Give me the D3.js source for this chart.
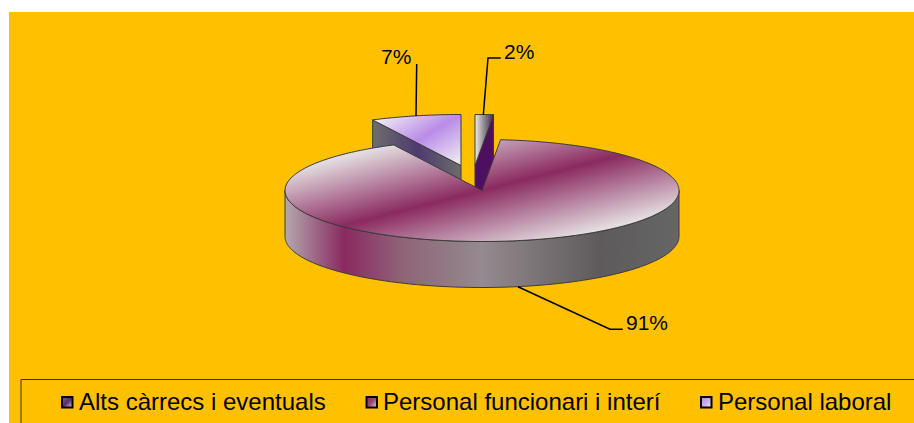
<!DOCTYPE html>
<html><head><meta charset="utf-8">
<script src="https://cdn.jsdelivr.net/npm/d3@7/dist/d3.min.js"></script>
<style>html,body{margin:0;padding:0;background:#fff;overflow:hidden}svg{display:block}text{font-family:"Liberation Sans",Arial,sans-serif;fill:#000}</style>
</head><body><svg id="c" width="914" height="423"></svg>
<script>
const categories = ["Alts càrrecs i eventuals","Personal funcionari i interí","Personal laboral"];
const values = [1.5, 91.1, 7.4];
const valueLabels = ["2%","91%","7%"];

const svg = d3.select("#c");
const defs = svg.append("defs");
const cx=482, cy=190.5, rx=197, ry=51, depth=46;
const explode=[[-7,-25],[0,0],[-21,-25]];

function grad(id,x1,y1,x2,y2,stops,units){
  const g=defs.append("linearGradient").attr("id",id).attr("gradientUnits",units||"userSpaceOnUse");
  g.attr("x1",x1).attr("y1",y1).attr("x2",x2).attr("y2",y2);
  stops.forEach(s=>g.append("stop").attr("offset",s[0]).attr("stop-color",s[1]));
}
grad("mainTop",463,116,501,265,[[0,"#e8e2e5"],[.07,"#e2dbdf"],[.5,"#8a2a60"],[.93,"#e2dbdf"],[1,"#e8e2e5"]]);
grad("mainSide",285,0,679,0,[[0,"#b3a8ad"],[.15,"#8a2a60"],[.3,"#8f6478"],[.5,"#948a8f"],[.8,"#5e5a5b"],[1,"#666666"]]);
grad("labTop",410,100,450,166,[[0,"#efe9f5"],[.5,"#b98ce8"],[1,"#ece6f2"]]);
grad("labSide",374,0,461,0,[[0,"#6c6c6c"],[.5,"#4e3a70"],[1,"#6c6c6c"]]);
grad("altTop",475,0,493,0,[[0,"#ecebec"],[.5,"#8f8a90"],[1,"#4a2a58"]]);
grad("key0",0,0,1,1,[[0,"#7a6a90"],[.5,"#5a2a72"],[1,"#d8d0e0"]],"objectBoundingBox");
grad("key1",0,0,1,1,[[0,"#8a2a60"],[.5,"#9a4a72"],[1,"#e0d8dc"]],"objectBoundingBox");
grad("key2",0,0,1,1,[[0,"#b98ce8"],[.5,"#c8a8f0"],[1,"#eee8f5"]],"objectBoundingBox");

svg.append("rect").attr("x",9).attr("y",12).attr("width",905).attr("height",411).attr("fill","#FFC000");

const pie=d3.pie().sort(null).startAngle(0).endAngle(2*Math.PI);
const arcs=pie(values);
const pt=(a,o,dy=0)=>[cx+o[0]+rx*Math.sin(a), cy+o[1]+dy-ry*Math.cos(a)];
const line=d3.line();
const samples=(a0,a1,o,dy=0)=>{
  const n=Math.max(2,Math.ceil(Math.abs(a1-a0)/0.02));
  return d3.range(n+1).map(i=>pt(a0+(a1-a0)*i/n,o,dy));
};
const stroke="#3a3a3a";
function wedge(i,fill){
  const o=explode[i],a=arcs[i];
  const apex=[cx+o[0],cy+o[1]];
  svg.append("path").attr("d",line([apex,...samples(a.startAngle,a.endAngle,o)])+"Z")
    .attr("fill",fill).attr("stroke",stroke).attr("stroke-width",1).attr("stroke-linejoin","round");
}
function radialFace(i,edge,fill){
  const o=explode[i],a=arcs[i];
  const ang=edge==="start"?a.startAngle:a.endAngle;
  const ax=[cx+o[0],cy+o[1]],r=pt(ang,o);
  svg.append("path").attr("d",line([ax,r,[r[0],r[1]+depth],[ax[0],ax[1]+depth]])+"Z")
    .attr("fill",fill).attr("stroke",stroke).attr("stroke-width",1);
}
// exploded slices behind the main slice
radialFace(2,"start","url(#labSide)");
wedge(2,"url(#labTop)");
radialFace(0,"end","#4f0f60");
wedge(0,"url(#altTop)");
// main slice outer wall (front half)
const m=explode[1];
const front=samples(Math.PI/2,3*Math.PI/2,m);
const frontLow=samples(3*Math.PI/2,Math.PI/2,m,depth);
svg.append("path").attr("d",line([...front,...frontLow])+"Z").attr("fill","url(#mainSide)").attr("stroke",stroke).attr("stroke-width",1);
wedge(1,"url(#mainTop)");

// leaders
const leaders=[[[500.7,58],[488,58],[483.3,115]],[[518,286.7],[610,329.3],[622.7,329.3]],[[416.7,64],[416,116]]];
leaders.forEach(l=>svg.append("path").attr("d",line(l)).attr("fill","none").attr("stroke","#000").attr("stroke-width",1.5));
const labelPos=[[504,59],[626,330],[381,64]];
valueLabels.forEach((t,i)=>svg.append("text").attr("x",labelPos[i][0]).attr("y",labelPos[i][1]).attr("font-size",21).text(t));

// legend
svg.append("path").attr("d","M21,423V379.5H914").attr("fill","none").attr("stroke","#3a3010").attr("stroke-width",1);
const keyX=[62,366.5,701], textX=[79,383,718];
categories.forEach((c,i)=>{
  svg.append("rect").attr("x",keyX[i]).attr("y",397).attr("width",10.5).attr("height",10.5)
    .attr("fill",`url(#key${i})`).attr("stroke","#000").attr("stroke-width",2);
  svg.append("text").attr("x",textX[i]).attr("y",410).attr("font-size",24).text(c);
});
</script></body></html>
